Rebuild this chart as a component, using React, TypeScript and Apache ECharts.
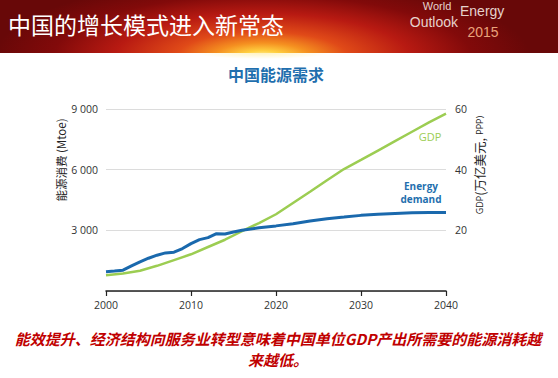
import React, { useEffect, useRef } from "react";
import * as echarts from "echarts";

const energyYears = [2000, 2001, 2002, 2003, 2004, 2005, 2006, 2007, 2008, 2009, 2010, 2011, 2012, 2013, 2014, 2015, 2016, 2018, 2020, 2022, 2024, 2026, 2028, 2030, 2032, 2034, 2036, 2038, 2040];
const energyValues = [950, 985, 1030, 1240, 1440, 1620, 1770, 1885, 1918, 2098, 2344, 2541, 2640, 2836, 2820, 2918, 3000, 3130, 3220, 3330, 3460, 3575, 3655, 3740, 3800, 3836, 3870, 3885, 3885];

const gdpYears = [2000, 2002, 2004, 2006, 2008, 2010, 2012, 2014, 2016, 2018, 2020, 2022, 2024, 2026, 2028, 2030, 2032, 2034, 2036, 2038, 2040];
const gdpValues = [5.2, 5.8, 6.7, 8.3, 10.2, 12.1, 14.5, 16.9, 19.7, 22.4, 25.3, 29.0, 32.7, 36.5, 40.2, 43.2, 46.3, 49.4, 52.5, 55.6, 58.5];

const leftTicks = [3000, 6000, 9000];
const leftTickLabels = ["3 000", "6 000", "9 000"];

export default function App() {
  const ref = useRef<HTMLDivElement>(null);

  useEffect(() => {
    if (!ref.current) return;
    const chart = echarts.init(ref.current, undefined, { renderer: "svg" });
    const tickFont = "'Open Sans', 'Noto Sans', sans-serif";
    const logoFont = "'Liberation Sans', sans-serif";
    chart.setOption({
      animation: false,
      backgroundColor: "transparent",
      grid: { left: 106, right: 112, top: 109, bottom: 87 },
      xAxis: {
        type: "value",
        min: 2000,
        max: 2040,
        interval: 10,
        axisLine: { show: true, lineStyle: { color: "#222", width: 1.5 } },
        axisTick: { show: true, length: 5, lineStyle: { color: "#222", width: 1.2 } },
        axisLabel: {
          color: "#333",
          fontSize: 10.5,
          fontFamily: tickFont,
          margin: 8,
          formatter: (v: number) => String(v),
        },
        splitLine: { show: false },
      },
      yAxis: [
        {
          type: "value",
          min: 0,
          max: 9000,
          interval: 3000,
          axisLine: { show: false },
          axisTick: { show: false },
          splitLine: { show: true, lineStyle: { color: "#dcdcdc", width: 1 } },
          axisLabel: {
            color: "#333",
            fontSize: 10.5,
            fontFamily: tickFont,
            margin: 8,
            formatter: (v: number) => {
              const i = leftTicks.indexOf(v);
              return i >= 0 ? leftTickLabels[i] : "";
            },
          },
        },
        {
          type: "value",
          min: 0,
          max: 60,
          interval: 20,
          position: "right",
          axisLine: { show: false },
          axisTick: { show: false },
          splitLine: { show: false },
          axisLabel: {
            color: "#333",
            fontSize: 10.5,
            fontFamily: tickFont,
            margin: 9,
            formatter: (v: number) => (v === 0 ? "" : String(v)),
          },
        },
      ],
      series: [
        {
          type: "line",
          name: "GDP",
          yAxisIndex: 1,
          data: gdpYears.map((y, i) => [y, gdpValues[i]]),
          showSymbol: false,
          lineStyle: { color: "#9ccd52", width: 2.5 },
          z: 2,
        },
        {
          type: "line",
          name: "Energy demand",
          yAxisIndex: 0,
          data: energyYears.map((y, i) => [y, energyValues[i]]),
          showSymbol: false,
          lineStyle: { color: "#1a69ad", width: 3 },
          z: 3,
        },
      ],
      graphic: [
        {
          type: "text",
          left: 8,
          top: 12,
          style: { text: "中国的增长模式进入新常态", fill: "#ffffff", font: "23px 'Noto Sans CJK SC', sans-serif" },
        },
        {
          type: "text",
          x: 437,
          y: 0,
          style: { text: "World", fill: "#e6d2cc", font: "11px " + logoFont, textAlign: "center" },
        },
        {
          type: "text",
          x: 458,
          y: 15,
          style: { text: "Outlook", fill: "#e6d2cc", font: "14px " + logoFont, textAlign: "right" },
        },
        {
          type: "text",
          x: 460,
          y: 4,
          style: { text: "Energy", fill: "#e6d2cc", font: "14px " + logoFont },
        },
        {
          type: "text",
          x: 483,
          y: 25,
          style: { text: "2015", fill: "#eaa27a", font: "14px " + logoFont, textAlign: "center" },
        },
        {
          type: "text",
          x: 276,
          y: 74,
          style: {
            text: "中国能源需求",
            fill: "#1f6fae",
            font: "bold 16px 'Noto Sans CJK SC', sans-serif",
            textAlign: "center",
            textVerticalAlign: "middle",
          },
        },
        {
          type: "text",
          x: 61,
          y: 160,
          rotation: Math.PI / 2,
          style: {
            text: "能源消费 (Mtoe)",
            fill: "#222",
            font: "11.5px 'Noto Sans CJK SC', sans-serif",
            textAlign: "center",
            textVerticalAlign: "middle",
          },
        },
        {
          type: "text",
          x: 479,
          y: 165,
          rotation: Math.PI / 2,
          style: {
            text: "{s|GDP}{b|(万亿美元,} {s|PPP)}",
            fill: "#222",
            textAlign: "center",
            textVerticalAlign: "middle",
            rich: {
              s: { fontSize: 9, fontFamily: "'Open Sans', sans-serif", fill: "#222" },
              b: { fontSize: 12.5, fontFamily: "'Noto Sans CJK SC', sans-serif", fill: "#222" },
            },
          },
        },
        {
          type: "text",
          x: 430,
          y: 136,
          style: {
            text: "GDP",
            fill: "#9ccd52",
            font: "11px 'Open Sans', sans-serif",
            textAlign: "center",
            textVerticalAlign: "middle",
          },
        },
        {
          type: "text",
          x: 421,
          y: 186,
          style: {
            text: "Energy",
            fill: "#1f6fae",
            font: "bold 10px 'Open Sans', sans-serif",
            textAlign: "center",
            textVerticalAlign: "middle",
          },
        },
        {
          type: "text",
          x: 421,
          y: 199,
          style: {
            text: "demand",
            fill: "#1f6fae",
            font: "bold 10px 'Open Sans', sans-serif",
            textAlign: "center",
            textVerticalAlign: "middle",
          },
        },
        {
          type: "text",
          x: 278,
          y: 338,
          style: {
            text: "能效提升、经济结构向服务业转型意味着中国单位GDP产出所需要的能源消耗越",
            fill: "#c00000",
            font: "italic bold 15px 'Noto Sans CJK SC', sans-serif",
            textAlign: "center",
            textVerticalAlign: "middle",
          },
        },
        {
          type: "text",
          x: 278,
          y: 359,
          style: {
            text: "来越低。",
            fill: "#c00000",
            font: "italic bold 15px 'Noto Sans CJK SC', sans-serif",
            textAlign: "center",
            textVerticalAlign: "middle",
          },
        },
      ],
    });
    return () => chart.dispose();
  }, []);

  return (
    <div style={{ position: "fixed", left: 0, top: 0, width: 558, height: 378, background: "#ffffff", overflow: "hidden" }}>
      <div
        style={{
          position: "absolute",
          left: 0,
          top: 0,
          width: 558,
          height: 53,
          background:
            "radial-gradient(ellipse 48% 150% at 47% 108%, #fffad0 0%, #ffd040 8%, #f59020 18%, #e04a18 32%, #b81a12 55%, #820a0a 78%, #680808 100%)",
        }}
      />
      <div style={{ position: "absolute", left: 0, top: 53, width: 558, height: 6, background: "radial-gradient(ellipse 12% 100% at 47% 0%, #fff3c0 0%, rgba(255,255,255,0) 100%)" }} />
      <div ref={ref} style={{ position: "absolute", left: 0, top: 0, width: 558, height: 378 }} />
    </div>
  );
}
